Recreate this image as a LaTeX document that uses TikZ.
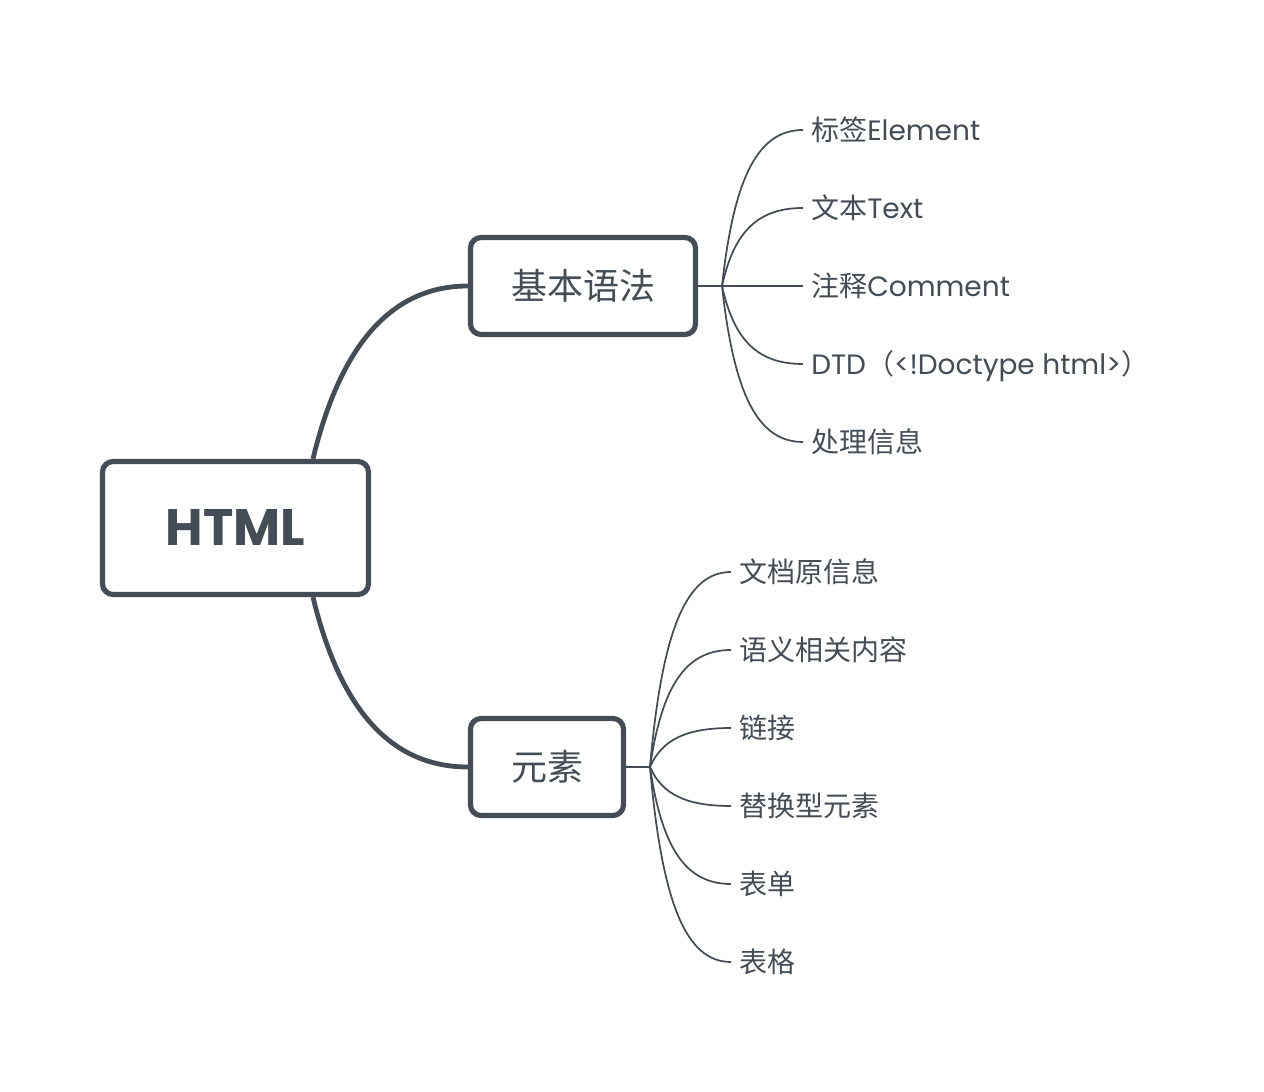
\documentclass[tikz,border=0pt]{standalone}
\usepackage{fontspec}
\setmainfont{Poppins}
\newfontfamily\cj{Noto Sans CJK SC}
\definecolor{ink}{HTML}{444C56}
\begin{document}
\begin{tikzpicture}[x=0.75pt,y=0.75pt,
  box/.style={draw=ink, line width=3.9pt, rounded corners=8pt, fill=white, text=ink, inner sep=0pt, align=center},
  rootbox/.style={box, minimum width=199.5pt, minimum height=99.75pt, font=\fontsize{38.5}{44}\selectfont\bfseries, text height=27pt, text depth=0pt},
  topicbox/.style={box, minimum height=72.75pt, font=\fontsize{27}{32}\selectfont\cj, text height=20pt, text depth=0pt},
  leaf/.style={anchor=west, text=ink, inner sep=0pt, inner xsep=6pt, font=\fontsize{21}{25}\selectfont, text height=15.5pt, text depth=0pt},
  mainlink/.style={draw=ink, line width=3.6pt},
  sublink/.style={draw=ink, line width=1.3pt}]
\useasboundingbox[fill=white] (0,0) rectangle (1264,1092);

% main nodes
\node[rootbox] (html) at (235.5,564) {HTML};
\node[topicbox, minimum width=168.75pt] (basic) at (583,806) {基本语法};
\node[topicbox, minimum width=114.75pt] (elem) at (547,325) {元素};

% hubs
\coordinate (bh) at (722,806);
\coordinate (eh) at (650,325);

% leaves of basic
\node[leaf] (b1) at (803,962) {{\cj 标签}Element};
\node[leaf] (b2) at (803,884) {{\cj 文本}Text};
\node[leaf] (b3) at (803,806) {{\cj 注释}Comment};
\node[leaf] (b4) at (803,728) {DTD{\cj （}<!Doctype html>{\cj ）}};
\node[leaf] (b5) at (803,650) {{\cj 处理信息}};

% leaves of elem
\node[leaf] (e1) at (731,520) {{\cj 文档原信息}};
\node[leaf] (e2) at (731,442) {{\cj 语义相关内容}};
\node[leaf] (e3) at (731,364) {{\cj 链接}};
\node[leaf] (e4) at (731,286) {{\cj 替换型元素}};
\node[leaf] (e5) at (731,208) {{\cj 表单}};
\node[leaf] (e6) at (731,130) {{\cj 表格}};

% main links
\draw[mainlink] ([xshift=58.1pt]html.north) .. controls +(22,91) and +(-90,0) .. (basic.west);
\draw[mainlink] ([xshift=58.1pt]html.south) .. controls +(22,-91) and +(-90,0) .. (elem.west);

% basic branches
\draw[sublink] (basic.east) -- (bh);
\draw[sublink] (bh) .. controls +(12,109.2) and +(-45,0) .. (b1.west);
\draw[sublink] (bh) .. controls +(12,54.6) and +(-45,0) .. (b2.west);
\draw[sublink] (bh) -- (b3.west);
\draw[sublink] (bh) .. controls +(12,-54.6) and +(-45,0) .. (b4.west);
\draw[sublink] (bh) .. controls +(12,-109.2) and +(-45,0) .. (b5.west);

% elem branches
\draw[sublink] (elem.east) -- (eh);
\draw[sublink] (eh) .. controls +(12,136.5) and +(-45,0) .. (e1.west);
\draw[sublink] (eh) .. controls +(12,81.9) and +(-45,0) .. (e2.west);
\draw[sublink] (eh) .. controls +(12,27.3) and +(-45,0) .. (e3.west);
\draw[sublink] (eh) .. controls +(12,-27.3) and +(-45,0) .. (e4.west);
\draw[sublink] (eh) .. controls +(12,-81.9) and +(-45,0) .. (e5.west);
\draw[sublink] (eh) .. controls +(12,-136.5) and +(-45,0) .. (e6.west);
\end{tikzpicture}
\end{document}
